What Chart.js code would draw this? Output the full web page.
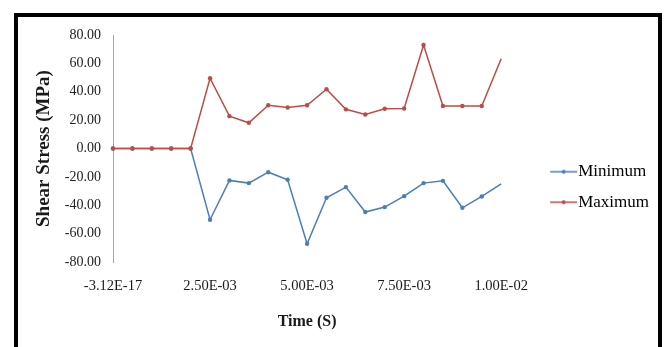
<!DOCTYPE html>
<html>
<head>
<meta charset="utf-8">
<script src="https://cdn.jsdelivr.net/npm/chart.js@4/dist/chart.umd.min.js"></script>
<style>
  html, body { margin: 0; padding: 0; background: #fff; }
  canvas { display: block; }
</style>
</head>
<body>
<canvas id="c" width="667" height="347"></canvas>
<script>
// ---- data ----
const categories = [-3.12e-17, 0.0005, 0.001, 0.0015, 0.002, 0.0025, 0.003, 0.0035, 0.004, 0.0045,
                    0.005, 0.0055, 0.006, 0.0065, 0.007, 0.0075, 0.008, 0.0085, 0.009, 0.0095, 0.01];
const minimumValues = [0, 0, 0, 0, 0, -50.2, -22.5, -24.4, -16.7, -22.0, -67.1, -34.7, -27.2, -44.8,
                       -41.3, -33.6, -24.4, -22.8, -41.8, -33.8, -24.9];
const maximumValues = [0, 0, 0, 0, 0, 49.5, 22.8, 18.1, 30.5, 28.9, 30.5, 41.8, 27.6, 24.0,
                       28.0, 28.2, 73.0, 30.0, 30.0, 30.0, 63.2];
const tickLabels = ["-3.12E-17", "2.50E-03", "5.00E-03", "7.50E-03", "1.00E-02"];
const seriesNames = ["Minimum", "Maximum"];

const BLUE = '#4a7ebb';
const RED = '#be4b48';
const SERIF = "'Liberation Serif', 'Times New Roman', serif";

function makeIcon(color) {
  const c = document.createElement('canvas');
  c.width = 80; c.height = 10;
  const g = c.getContext('2d');
  g.strokeStyle = color; g.lineWidth = 1.5;
  g.beginPath(); g.moveTo(48, 5); g.lineTo(75, 5); g.stroke();
  g.fillStyle = color;
  g.beginPath(); g.arc(61.5, 5, 2, 0, Math.PI * 2); g.fill();
  return c;
}
const icons = [makeIcon(BLUE), makeIcon(RED)];

const framePlugin = {
  id: 'frame',
  beforeDraw(chart) {
    const ctx = chart.ctx;
    ctx.save();
    ctx.fillStyle = '#fff';
    ctx.fillRect(0, 0, chart.width, chart.height);
    ctx.restore();
  },
  afterDraw(chart) {
    const ctx = chart.ctx;
    ctx.save();
    ctx.strokeStyle = '#000';
    ctx.lineWidth = 4;
    ctx.strokeRect(16, 15, 644, 345);
    ctx.restore();
  }
};

const lastIdx = categories.length - 1;
const radiusFn = (ctx) => ctx.dataIndex === lastIdx ? 0 : 2.2;

new Chart(document.getElementById('c'), {
  type: 'line',
  data: {
    labels: categories,
    datasets: [
      { label: seriesNames[0], data: minimumValues, borderColor: BLUE, backgroundColor: BLUE,
        borderWidth: 1.5, pointRadius: radiusFn, pointBackgroundColor: BLUE, pointBorderWidth: 0,
        tension: 0, order: 1 },
      { label: seriesNames[1], data: maximumValues, borderColor: RED, backgroundColor: RED,
        borderWidth: 1.5, pointRadius: radiusFn, pointBackgroundColor: RED, pointBorderWidth: 0,
        tension: 0, order: 0 }
    ]
  },
  options: {
    responsive: false,
    animation: false,
    devicePixelRatio: 1,
    layout: { padding: { left: 20, top: 35, right: 8, bottom: 8 } },
    plugins: {
      tooltip: { enabled: false },
      legend: {
        position: 'right',
        labels: {
          usePointStyle: true,
          pointStyleWidth: 55,
          padding: 13.5,
          color: '#000',
          font: { family: SERIF, size: 17 },
          sort: (a, b) => a.datasetIndex - b.datasetIndex,
          generateLabels(chart) {
            const items = Chart.defaults.plugins.legend.labels.generateLabels(chart);
            items.forEach(it => { it.pointStyle = icons[it.datasetIndex]; });
            return items;
          }
        }
      }
    },
    scales: {
      x: {
        type: 'category',
        offset: false,
        grid: { display: false, drawTicks: false },
        border: { display: false },
        ticks: {
          autoSkip: false,
          maxRotation: 0,
          padding: 15,
          color: '#1a1a1a',
          font: { family: SERIF, size: 14.5 },
          callback: (v, i) => (i % 5 === 0 ? tickLabels[i / 5] : '')
        },
        title: {
          display: true,
          text: 'Time (S)',
          color: '#1a1a1a',
          font: { family: SERIF, size: 16, weight: 'bold' },
          padding: { top: 0, bottom: 7.7 }
        },
        afterFit: (s) => { s.height = 77; }
      },
      y: {
        min: -80,
        max: 80,
        grid: { display: false, drawTicks: false },
        border: { display: true, color: '#a6a6a6', width: 1 },
        ticks: {
          stepSize: 20,
          padding: 12,
          color: '#222',
          font: { family: SERIF, size: 14 },
          callback: (v) => Number(v).toFixed(2)
        },
        title: {
          display: true,
          text: 'Shear Stress (MPa)',
          color: '#1a1a1a',
          font: { family: SERIF, size: 19, weight: 'bold' },
          padding: { top: 12.6, bottom: 0 }
        },
        afterFit: (s) => { s.width = 93; }
      }
    }
  },
  plugins: [framePlugin]
});
</script>
</body>
</html>
